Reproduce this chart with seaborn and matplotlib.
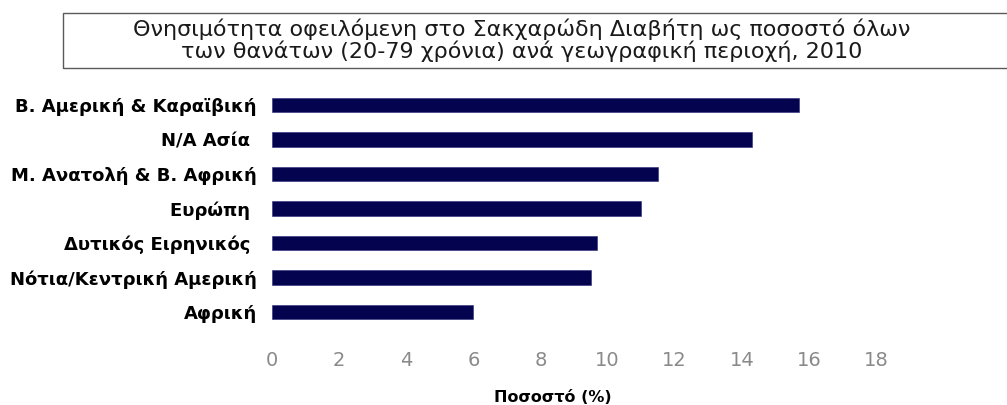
import matplotlib
matplotlib.use("Agg")
import matplotlib.pyplot as plt
from matplotlib.patches import Rectangle
import seaborn as sns
import pandas as pd

# Diabetes mortality as share of all deaths (ages 20-79), by region, 2010
regions = [
    "Β. Αμερική & Καραϊβική",
    "Ν/Α Ασία ",
    "Μ. Ανατολή & Β. Αφρική",
    "Ευρώπη ",
    "Δυτικός Ειρηνικός ",
    "Νότια/Κεντρική Αμερική",
    "Αφρική",
]
shares = [15.7, 14.3, 11.5, 11.0, 9.7, 9.5, 6.0]
xticks = [0, 2, 4, 6, 8, 10, 12, 14, 16, 18]

title_lines = [
    "Θνησιμότητα οφειλόμενη στο Σακχαρώδη Διαβήτη ως ποσοστό όλων",
    "των θανάτων (20-79 χρόνια) ανά γεωγραφική περιοχή, 2010",
]
xlabel = "Ποσοστό (%)"

df = pd.DataFrame({"region": regions, "share": shares})

sns.set_theme(style="white")
plt.rcParams["font.family"] = ["DejaVu Sans"]

W, H = 1007, 405
fig = plt.figure(figsize=(W / 100, H / 100), dpi=100)

# axes placed in pixel terms
left_px, right_px = 272, 876
top_px, bottom_px = 84.3, 332.7
ax = fig.add_axes([left_px / W, 1 - bottom_px / H,
                   (right_px - left_px) / W, (bottom_px - top_px) / H])

sns.barplot(data=df, y="region", x="share", orient="h", color="#03034f",
            width=0.41, saturation=1, ax=ax, edgecolor="#2a2a7a", linewidth=0.4)

ax.set_xlim(0, 18)
ax.set_ylim(6.6, -0.6)
ax.set_xticks(xticks)
ax.set_xticklabels([str(t) for t in xticks], color="#8a8a8a", fontsize=14)
for lab in ax.get_yticklabels():
    lab.set_fontweight("bold")
    lab.set_fontsize(13)
    lab.set_color("black")
ax.tick_params(axis="x", length=0, pad=13)
ax.tick_params(axis="y", length=0, pad=11)
for s in ax.spines.values():
    s.set_visible(False)
ax.set_ylabel("")
ax.set_xlabel(xlabel, fontweight="bold", fontsize=11.5, color="black")
ax.xaxis.set_label_coords((553 - left_px) / (right_px - left_px),
                          -(398 - bottom_px) / (bottom_px - top_px))
ax.xaxis.label.set_va("center")

# framed title box, open on the right side
box = Rectangle((63 / W, 1 - 68 / H), (W + 20 - 63) / W, 55 / H,
                transform=fig.transFigure, fill=False, edgecolor="#5a5a5a",
                linewidth=1.0, clip_on=False)
fig.patches.append(box)
fig.text(522 / W, 1 - 36.5 / H, title_lines[0], ha="center", va="baseline",
         fontsize=16, color="#1a1a1a")
fig.text(522 / W, 1 - 58.5 / H, title_lines[1], ha="center", va="baseline",
         fontsize=16, color="#1a1a1a")

fig.savefig("out.png", dpi=100)
